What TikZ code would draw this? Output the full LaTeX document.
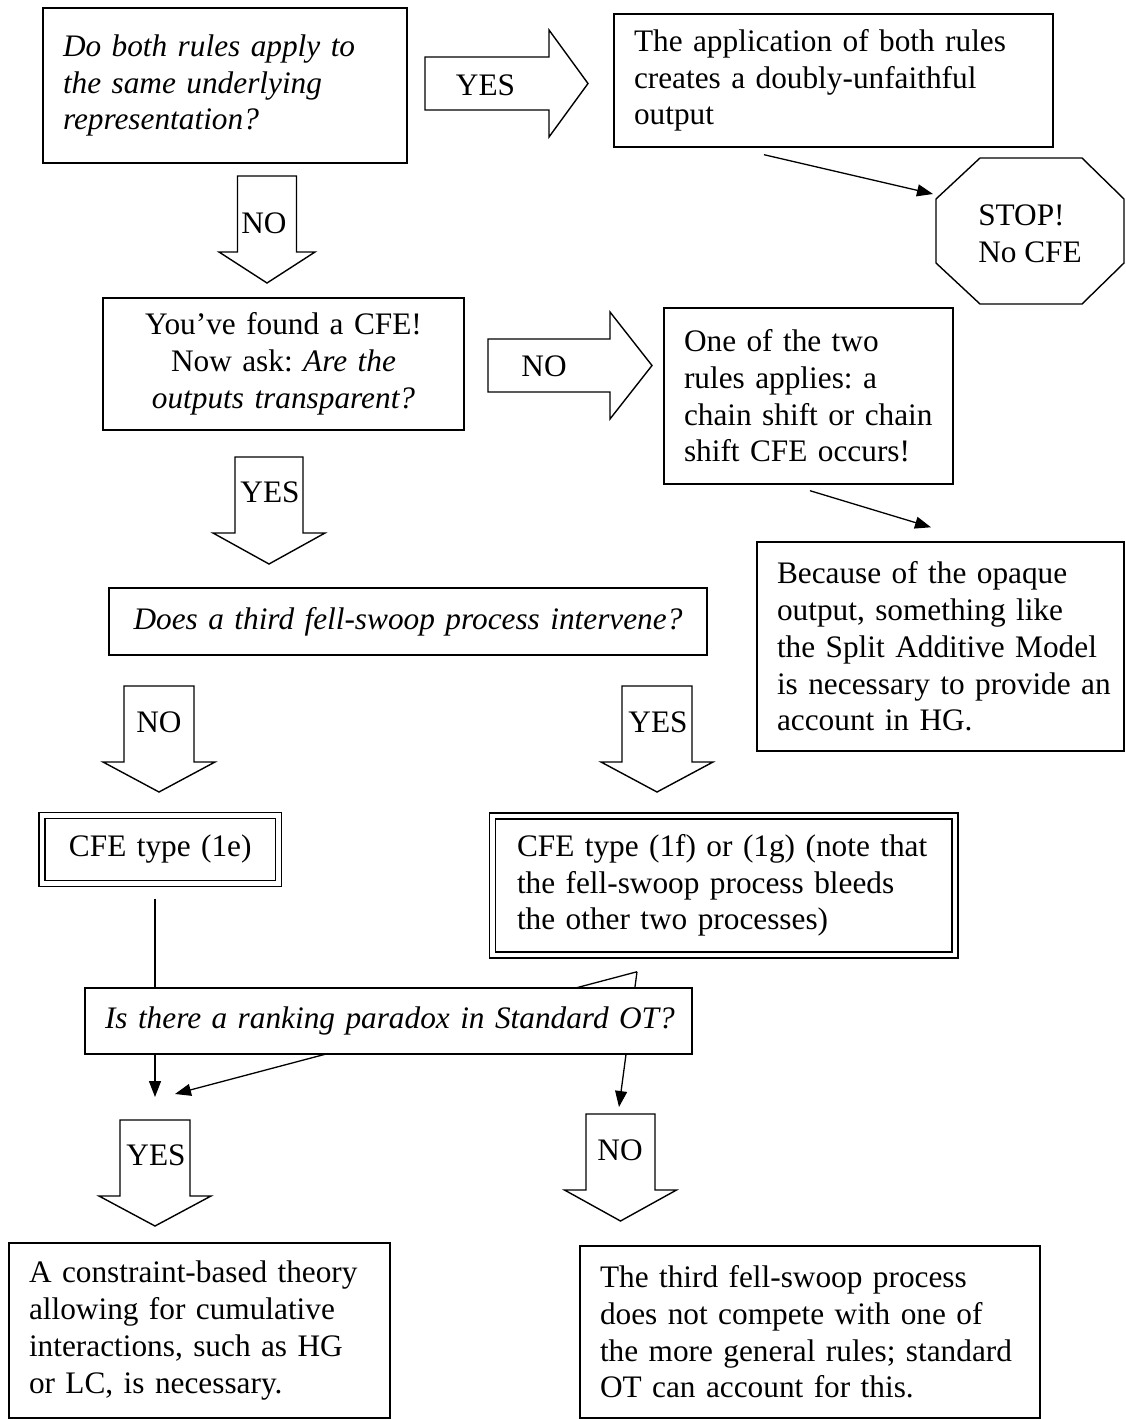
\documentclass[tikz,border=0pt]{standalone}
\usepackage{fontspec}
\setmainfont{Liberation Serif}
\usetikzlibrary{arrows.meta}
\frenchspacing

% block arrow pointing down: centre x, body half-width, body top, head top, head half-width, tip y
\newcommand\downblock[6]{%
  \draw[blockarrow] ({#1-#2},#3) -- ({#1+#2},#3) -- ({#1+#2},#4) -- ({#1+#5},#4)
    -- (#1,#6) -- ({#1-#5},#4) -- ({#1-#2},#4) -- cycle;}
% block arrow pointing right: centre y, body half-height, body left, head base x, head half-height, tip x
\newcommand\rightblock[6]{%
  \draw[blockarrow] (#3,{#1-#2}) -- (#4,{#1-#2}) -- (#4,{#1-#5}) -- (#6,#1)
    -- (#4,{#1+#5}) -- (#4,{#1+#2}) -- (#3,{#1+#2}) -- cycle;}

\begin{document}
\begin{tikzpicture}[x=1pt,y=-1pt,
  font=\fontsize{31.3}{36.7}\selectfont\frenchspacing,
  box/.style={draw, line width=1.4pt, fill=white, inner xsep=20pt, inner ysep=0pt, align=left},
  dbox/.style={draw, line width=1.5pt, double, double distance=4.5pt, fill=white,
               inner ysep=0pt, align=left},
  blockarrow/.style={draw, line width=1.4pt, line join=miter},
  lbl/.style={inner sep=0pt},
  conn/.style={line width=1.3pt, -{Triangle[length=16pt,width=12pt]}},
]
\useasboundingbox (0,0) rectangle (1125,1419);

% first question and its outcome
\node[box, minimum width=364pt, minimum height=155pt, text width=324pt] (same) at (225,85.5)
  {\itshape\mbox{Do both rules apply to}\\\mbox{the same underlying}\\\mbox{representation?}};
\node[box, minimum width=439pt, minimum height=133pt, text width=399pt] (app) at (833.5,80.5)
  {\mbox{The application of both rules}\\\mbox{creates a doubly-unfaithful}\\\mbox{output}};

\rightblock{83.5}{26.5}{425}{549}{53.5}{588}
\node[lbl] (yes1) at (485.5,85) {YES};

% stop sign
\draw[line width=1.4pt, line join=miter] (980,158) -- (1082,158) -- (1124,199) -- (1124,263)
  -- (1082,304) -- (980,304) -- (936,263) -- (936,199) -- cycle;
\node[lbl, align=left] (stop) at (1030,234) {STOP!\\No CFE};
\coordinate (stopin) at (933,194);
\draw[conn] ([xshift=-69.5pt,yshift=-7pt]app.south) -- (stopin);

\downblock{267}{29.5}{176}{252}{48}{283}
\node[lbl] (no1) at (264,223) {NO};

% second question
\node[box, minimum width=361pt, minimum height=132pt, text width=321pt, align=center] (found) at (283.5,364)
  {\mbox{You’ve found a CFE!}\\\mbox{Now ask: \textit{Are the}}\\\mbox{\textit{outputs transparent?}}};

\rightblock{365.5}{26.5}{488}{610}{53.5}{652}
\node[lbl] (no2) at (544,366) {NO};

\node[box, minimum width=289pt, minimum height=176pt, text width=249pt] (chain) at (808.5,396)
  {\mbox{One of the two}\\\mbox{rules applies: a}\\\mbox{chain shift or chain}\\\mbox{shift CFE occurs!}};
\node[box, minimum width=367pt, minimum height=209pt, text width=327pt] (sam) at (940.5,646.5)
  {\mbox{Because of the opaque}\\\mbox{output, something like}\\\mbox{the Split Additive Model}\\\mbox{is necessary to provide an}\\\mbox{account in HG.}};
\draw[conn] ([xshift=1.5pt,yshift=-6pt]chain.south) -- ([xshift=-9.5pt,yshift=14pt]sam.north);

\downblock{269}{34}{457}{533}{56}{564}
\node[lbl] (yes2) at (270,492) {YES};

% third question
\node[box, minimum width=598pt, minimum height=67pt, text width=558pt, align=center] (third) at (408,621.5)
  {\itshape\mbox{Does a third fell-swoop process intervene?}};

\downblock{159}{35}{686}{762}{56}{792}
\node[lbl] (no3) at (159,722) {NO};
\downblock{657}{35}{686}{762}{56}{792}
\node[lbl] (yes3) at (658,722) {YES};

\node[dbox, minimum width=236.5pt, minimum height=68pt, inner xsep=20pt, text width=196.5pt, align=center] (t1e) at (160.25,849.5)
  {\mbox{CFE type (1e)}};
\node[dbox, minimum width=462.5pt, minimum height=139pt, inner xsep=24.5pt, text width=413.5pt] (t1f) at (723.75,885.5)
  {\mbox{CFE type (1f) or (1g) (note that}\\\mbox{the fell-swoop process bleeds}\\\mbox{the other two processes)}};

% connectors into the last question's outcomes (passing behind its box)
\coordinate (yesin) at (155,1097);
\coordinate (yesin2) at (175,1094);
\coordinate (noin) at (619,1107);
\draw[conn] ([xshift=-5.25pt,yshift=-14.5pt]t1e.south) -- (yesin);
\draw[conn] ([xshift=-86.75pt,yshift=-16pt]t1f.south) -- (yesin2);
\draw[conn] ([xshift=-86.75pt,yshift=-16pt]t1f.south) -- (noin);

\node[box, minimum width=607pt, minimum height=66pt, text width=567pt, align=center] (paradox) at (388.5,1021)
  {\itshape\mbox{Is there a ranking paradox in Standard OT?}};

\downblock{155}{35}{1120}{1196}{56}{1226}
\node[lbl] (yes4) at (156,1155) {YES};
\downblock{620.5}{34.5}{1114}{1190}{56}{1221}
\node[lbl] (no4) at (620,1150) {NO};

% conclusions
\node[box, minimum width=381pt, minimum height=175pt, text width=341pt] (cumul) at (199.5,1330.5)
  {\mbox{A constraint-based theory}\\\mbox{allowing for cumulative}\\\mbox{interactions, such as HG}\\\mbox{or LC, is necessary.}};
\node[box, minimum width=460pt, minimum height=172pt, text width=420pt] (std) at (810,1332)
  {\mbox{The third fell-swoop process}\\\mbox{does not compete with one of}\\\mbox{the more general rules; standard}\\\mbox{OT can account for this.}};
\end{tikzpicture}
\end{document}
